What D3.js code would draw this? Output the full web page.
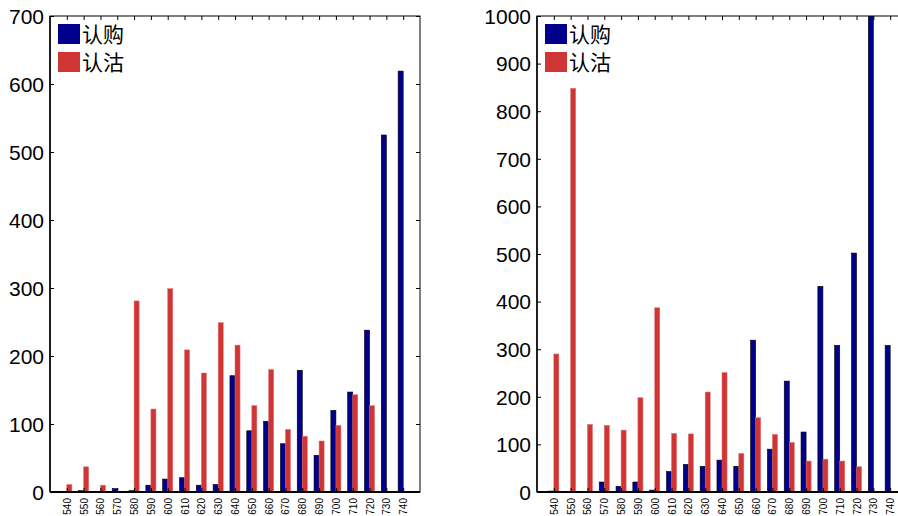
<!DOCTYPE html>
<html><head><meta charset="utf-8">
<script src="https://cdn.jsdelivr.net/npm/d3@7/dist/d3.min.js"></script>
<style>body{margin:0;background:#fff;overflow:hidden}svg{display:block}</style>
</head><body>
<script>
const strikes = [540,550,560,570,580,590,600,610,620,630,640,650,660,670,680,690,700,710,720,730,740];
const leftCall = [1,2,0,5,2,10,19,21,10,11,171,90,104,71,179,54,120,147,238,525,619];
const leftPut  = [11,37,10,1,281,122,299,209,175,249,216,127,180,92,82,75,98,143,127,1,1];
const rightCall = [2,1,0,21,12,21,4,43,58,54,67,54,319,90,233,126,432,308,502,1050,308];
const rightPut  = [290,848,142,140,130,198,387,123,122,210,251,81,156,121,104,65,69,65,53,1,1];
const leftTicks = [0,100,200,300,400,500,600,700];
const rightTicks = [0,100,200,300,400,500,600,700,800,900,1000];
const legendLabels = ["认购","认沽"];
const colors = ["#00008c","#d03535"];

const svg = d3.select("body").append("svg").attr("width",898).attr("height",516);
const font = "Liberation Sans, Arial, sans-serif";

function panel(x0, yMax, ticks, call, put, id){
  const top=16, bottom=492, w=370;
  const x = d3.scaleLinear().domain([530,750]).range([x0, x0+w]);
  const y = d3.scaleLinear().domain([0,yMax]).range([bottom, top]);
  const g = svg.append("g");
  const clip = "clip"+id;
  svg.append("clipPath").attr("id",clip).append("rect")
    .attr("x",x0).attr("y",top).attr("width",w).attr("height",bottom-top);
  const bars = g.append("g").attr("clip-path",`url(#${clip})`);
  bars.selectAll("rect.c").data(strikes).enter().append("rect")
    .attr("x",d=>x(d-3)).attr("width",(d)=>x(d)-x(d-3))
    .attr("y",(d,i)=>y(call[i])).attr("height",(d,i)=>y(0)-y(call[i]))
    .attr("fill",colors[0]).attr("stroke","#000").attr("stroke-width",0.6);
  bars.selectAll("rect.p").data(strikes).enter().append("rect")
    .attr("x",d=>x(d)).attr("width",(d)=>x(d+3)-x(d))
    .attr("y",(d,i)=>y(put[i])).attr("height",(d,i)=>y(0)-y(put[i]))
    .attr("fill",colors[1]).attr("stroke","#e07070").attr("stroke-width",0.5);

  // frame
  g.append("rect").attr("x",x0).attr("y",top).attr("width",w).attr("height",bottom-top)
    .attr("fill","none").attr("stroke","#000").attr("stroke-width",1);
  g.append("line").attr("x1",x0).attr("x2",x0+w).attr("y1",bottom).attr("y2",bottom)
    .attr("stroke","#000").attr("stroke-width",2);
  g.append("line").attr("x1",x0).attr("x2",x0).attr("y1",top).attr("y2",bottom)
    .attr("stroke","#000").attr("stroke-width",1.5);

  // left axis
  const ya = d3.axisLeft(y).tickValues(ticks).tickSize(-4).tickPadding(6).tickFormat(d3.format("d"));
  const yg = g.append("g").attr("transform",`translate(${x0},0)`).call(ya);
  yg.select(".domain").remove();
  yg.selectAll("text").attr("font-family",font).attr("font-size",21).attr("fill","#000").attr("dy","0.35em");
  // right mirrored ticks
  const yr = d3.axisRight(y).tickValues(ticks).tickSize(-4).tickFormat("");
  const yrg = g.append("g").attr("transform",`translate(${x0+w},0)`).call(yr);
  yrg.select(".domain").remove();
  // bottom axis
  const xa = d3.axisBottom(x).tickValues(strikes).tickSize(-4).tickPadding(5);
  const xg = g.append("g").attr("transform",`translate(0,${bottom})`).call(xa);
  xg.select(".domain").remove();
  xg.selectAll("text").attr("font-family",font).attr("font-size",10).attr("fill","#000")
    .attr("transform","rotate(-90)").attr("text-anchor","end").attr("x",-6).attr("y",0).attr("dy","0.35em");
  // top mirrored ticks
  const xt = d3.axisTop(x).tickValues(strikes).tickSize(-4).tickFormat("");
  const xtg = g.append("g").attr("transform",`translate(0,${top})`).call(xt);
  xtg.select(".domain").remove();

  // legend
  const lg = g.append("g").attr("transform",`translate(${x0+8},24)`);
  legendLabels.forEach((t,i)=>{
    lg.append("rect").attr("x",0).attr("y",i*28).attr("width",22).attr("height",20).attr("fill",colors[i]);
    lg.append("text").attr("x",24).attr("y",i*28+10).attr("dy","0.38em").attr("font-size",21)
      .attr("font-family","Noto Sans CJK SC, sans-serif").attr("fill","#000").text(t);
  });
}
panel(50,700,leftTicks,leftCall,leftPut,"a");
panel(537,1000,rightTicks,rightCall,rightPut,"b");
</script>
</body></html>
